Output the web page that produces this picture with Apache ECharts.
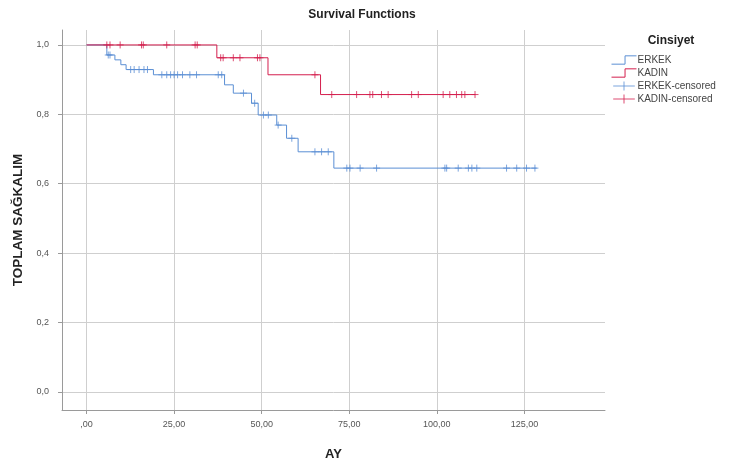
<!DOCTYPE html>
<html>
<head>
<meta charset="utf-8">
<script src="https://cdn.jsdelivr.net/npm/echarts@6/dist/echarts.min.js"></script>
<style>html,body{margin:0;padding:0;background:#fff}#c{width:729px;height:466px}</style>
</head>
<body>
<div id="c"></div>
<script>
// ---- data ----
const xTicks = [0, 25, 50, 75, 100, 125];
const xTickLabels = [',00', '25,00', '50,00', '75,00', '100,00', '125,00'];
const yTicks = [0, 0.2, 0.4, 0.6, 0.8, 1.0];
const yTickLabels = ['0,0', '0,2', '0,4', '0,6', '0,8', '1,0'];

const erkekTimes = [0, 5.8, 8.1, 9.8, 11.3, 19.1, 39.4, 41.9, 47.1, 49.0, 54.3, 57.1, 60.4, 70.6, 128.5];
const erkekSurv  = [1.0, 0.971, 0.957, 0.943, 0.929, 0.914, 0.885, 0.861, 0.832, 0.798, 0.769, 0.731, 0.692, 0.645, 0.645];
const erkekCensored = [6.2, 6.7, 12.6, 13.6, 15.0, 16.4, 17.4, 21.5, 22.9, 24.0, 25.0, 26.0, 27.4, 29.5, 31.4, 37.6, 38.6,
  44.8, 48.0, 50.5, 51.9, 54.7, 58.6, 65.2, 67.1, 69.0, 74.3, 75.2, 78.1, 82.8, 102.3, 102.8, 106.1, 109.0, 110.0, 111.4,
  119.9, 122.8, 125.6, 128.0];

const kadinTimes = [0, 37.2, 51.8, 66.8, 111.0];
const kadinSurv  = [1.0, 0.963, 0.914, 0.857, 0.857];
const kadinCensored = [5.8, 6.7, 9.6, 15.7, 16.2, 22.9, 31.0, 31.6, 38.3, 39.0, 41.9, 43.8, 48.8, 49.5, 65.2,
  70.0, 77.1, 80.9, 81.7, 84.2, 86.1, 92.8, 94.7, 101.8, 103.7, 105.6, 107.1, 108.0, 110.9];

const seriesNames = ['ERKEK', 'KADIN', 'ERKEK-censored', 'KADIN-censored'];

// ---- build ----
const BLUE = '#5b8fd4', RED = '#d41f4e';
function pairs(T, S) { return T.map((t, i) => [t, S[i]]); }
function survAt(T, S, t) { let v = S[0]; for (let i = 0; i < T.length; i++) { if (T[i] <= t) v = S[i]; } return v; }
function censPts(C, T, S) { return C.map(t => [t, survAt(T, S, t)]); }

const PLUS = 'path://M5,0 L5,10 M0,5 L10,5';
const STEP_ICON = 'path://M0,8 L13,8 L13,0 L24,0';
const PLUS_ICON = 'path://M0,5 L24,5 M12,0 L12,10';

const chart = echarts.init(document.getElementById('c'), null, {renderer: 'canvas'});
const FONT = '"Liberation Sans", Arial, sans-serif';
chart.setOption({
  animation: false,
  backgroundColor: '#ffffff',
  textStyle: {fontFamily: FONT},
  title: [
    {text: 'Survival Functions', left: 357, top: 4, textAlign: 'center',
     textStyle: {fontSize: 12, fontWeight: 'bold', color: '#222', fontFamily: FONT}},
    {text: 'Cinsiyet', left: 666, top: 30, textAlign: 'center',
     textStyle: {fontSize: 12, fontWeight: 'bold', color: '#222', fontFamily: FONT}}
  ],
  legend: {
    orient: 'vertical', left: 606, top: 50, itemWidth: 25, itemHeight: 9, itemGap: 3,
    textStyle: {fontSize: 10, color: '#444', fontFamily: FONT, padding: [0, 0, 0, -4]},
    data: [
      {name: seriesNames[0], icon: STEP_ICON, itemStyle: {color: 'transparent', borderColor: BLUE, borderWidth: 1}},
      {name: seriesNames[1], icon: STEP_ICON, itemStyle: {color: 'transparent', borderColor: RED, borderWidth: 1}},
      {name: seriesNames[2], icon: PLUS_ICON, itemStyle: {color: 'transparent', borderColor: BLUE, borderWidth: 1}},
      {name: seriesNames[3], icon: PLUS_ICON, itemStyle: {color: 'transparent', borderColor: RED, borderWidth: 1}}
    ]
  },
  grid: {left: 62, right: 124, top: 30, bottom: 56, containLabel: false},
  xAxis: {
    type: 'value', min: -7, max: 148,
    name: 'AY', nameLocation: 'middle', nameGap: 38,
    nameTextStyle: {fontSize: 13, fontWeight: 'bold', color: '#222', fontFamily: FONT},
    axisLine: {show: true, onZero: false, lineStyle: {color: '#9a9a9a', width: 1}},
    axisTick: {show: true, length: 4, inside: false, lineStyle: {color: '#9a9a9a'}, customValues: xTicks},
    axisLabel: {customValues: xTicks, fontSize: 9, color: '#555', margin: 10, fontFamily: FONT,
      formatter: v => xTickLabels[xTicks.indexOf(v)] ?? ''},
    splitLine: {show: true, lineStyle: {color: '#cfcfcf', width: 1}}
  },
  yAxis: {
    type: 'value', min: -0.052, max: 1.043,
    name: 'TOPLAM SAĞKALIM', nameLocation: 'middle', nameGap: 37, nameRotate: 90,
    nameTextStyle: {fontSize: 13.5, fontWeight: 'bold', color: '#222', fontFamily: FONT},
    axisLine: {show: true, onZero: false, lineStyle: {color: '#9a9a9a', width: 1}},
    axisTick: {show: true, length: 4, lineStyle: {color: '#9a9a9a'}, customValues: yTicks},
    axisLabel: {customValues: yTicks, fontSize: 9, color: '#555', margin: 13, fontFamily: FONT,
      formatter: v => { const i = yTicks.findIndex(t => Math.abs(t - v) < 1e-9); return i >= 0 ? yTickLabels[i] : ''; }},
    splitLine: {show: true, lineStyle: {color: '#cfcfcf', width: 1}}
  },
  series: [
    {name: seriesNames[0], type: 'line', step: 'end', data: pairs(erkekTimes, erkekSurv),
     showSymbol: false, symbol: 'none', lineStyle: {color: BLUE, width: 1}, itemStyle: {color: BLUE}, z: 3},
    {name: seriesNames[1], type: 'line', step: 'end', data: pairs(kadinTimes, kadinSurv),
     showSymbol: false, symbol: 'none', lineStyle: {color: RED, width: 1}, itemStyle: {color: RED}, z: 4},
    {name: seriesNames[2], type: 'scatter', data: censPts(erkekCensored, erkekTimes, erkekSurv),
     symbol: PLUS, symbolSize: 7, itemStyle: {color: 'transparent', borderColor: BLUE, borderWidth: 1}, z: 5},
    {name: seriesNames[3], type: 'scatter', data: censPts(kadinCensored, kadinTimes, kadinSurv),
     symbol: PLUS, symbolSize: 7, itemStyle: {color: 'transparent', borderColor: RED, borderWidth: 1}, z: 6}
  ]
});
</script>
</body>
</html>
